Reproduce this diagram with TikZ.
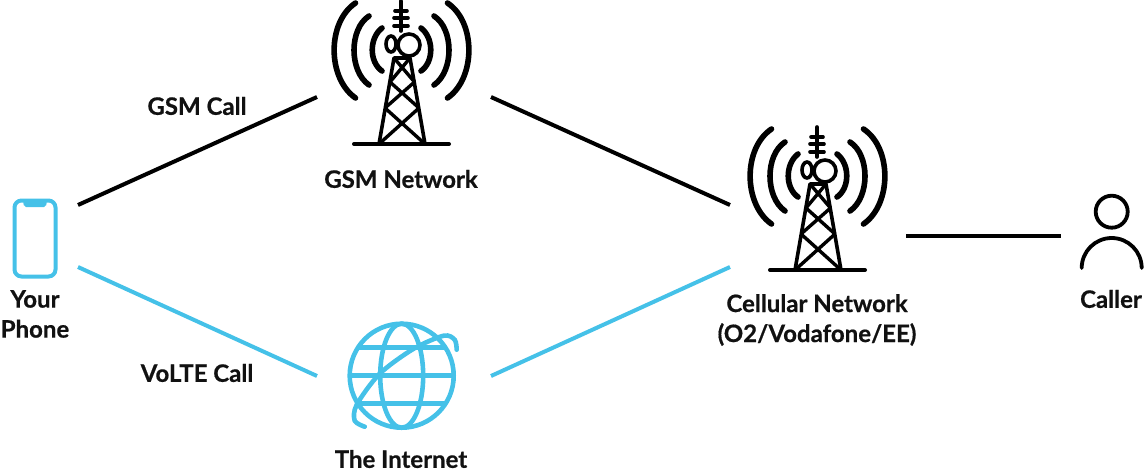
\documentclass[tikz,border=0pt]{standalone}
\usepackage{fontspec}
\setmainfont[BoldFeatures={FakeBold=0.6}]{Lato}
\usetikzlibrary{positioning}

\definecolor{callblue}{HTML}{45C1E8}
\definecolor{labelblack}{HTML}{111111}

\tikzset{
    iconbox/.style={inner sep=0pt, outer sep=0pt},
    labeltext/.style={font=\fontsize{24}{30}\selectfont\bfseries, text=labelblack, align=center, inner sep=0pt},
    gsmline/.style={draw=black, line width=4pt},
    volteline/.style={draw=callblue, line width=4pt},
    tower/.pic={
        % Signal arcs
        \foreach \s in {-1,1} {
            \draw[line width=5.6pt, line cap=round, xshift=.5pt] (\s*19.5,-116) .. controls (\s*32.5,-106) and (\s*32.5,-82) .. (\s*19.5,-73);
            \draw[line width=5.6pt, line cap=round, xshift=.5pt] (\s*32.5,-128) .. controls (\s*52.5,-115) and (\s*52.5,-73) .. (\s*32.5,-59);
            \draw[line width=5.6pt, line cap=round, xshift=.5pt] (\s*46,-141) .. controls (\s*74.5,-122) and (\s*74.5,-66) .. (\s*46,-46);
        }
        % Mast
        \draw[line width=3.6pt, line cap=round] (0,-143) -- (0,-113);
        \draw[line width=3.6pt, line cap=round] (-6,-133) -- (6,-133);
        \draw[line width=3.6pt, line cap=round] (-7,-126) -- (7,-126);
        \draw[line width=3.6pt, line cap=round] (-7,-118) -- (7,-118);
        % Dishes
        \draw[line width=3.6pt] (-10,-100) ellipse (5 and 8);
        \draw[line width=3.6pt, fill=white] (8,-99) circle (11);
        % Lattice
        \draw[line width=3.6pt, line join=round] (-22,0) -- (-7,-86) -- (9,-86) -- (24,0);
        \draw[line width=3.4pt] (-7,-86) -- (13.5,-62) (9,-86) -- (-11,-62);
        \draw[line width=3.4pt] (-11,-62) -- (18,-36) (13.5,-62) -- (-16,-36);
        \draw[line width=3.4pt] (-16,-36) -- (24,0) (18,-36) -- (-22,0);
        \draw[line width=4pt, line cap=round] (-47,0) -- (48,0);
    }
}

\begin{document}
\begin{tikzpicture}[x=1pt, y=-1pt]
    \useasboundingbox (0,0) rectangle (1148,472);

    % Invisible boxes that the lines run between
    \node[iconbox, minimum width=86pt, minimum height=62pt] (phone) at (35,236) {};
    \node[iconbox, minimum width=174pt, minimum height=97pt] (gsm) at (404,48.5) {};
    \node[iconbox, minimum width=174pt, minimum height=96pt] (internet) at (404,424) {};
    \node[iconbox, minimum width=176pt, minimum height=62pt] (cellular) at (818,236) {};
    \node[iconbox, minimum width=100pt, minimum height=62pt] (caller) at (1111,236) {};

    % Phone
    \draw[callblue, line width=4pt, rounded corners=7pt] (14.5,200.5) rectangle (55.5,276.5);
    \fill[callblue, rounded corners=2pt] (23,200) -- (47,200) -- (46,207) -- (24,207) -- cycle;

    % Towers
    \pic at (401,144) {tower};
    \pic at (817,270) {tower};

    % Globe
    \begin{scope}[shift={(401.7,375.7)}, draw=callblue, line width=4.6pt]
        \draw (0,0) circle (52);
        \draw (0,0) ellipse (21.5 and 52);
        \draw (-52,0) -- (52,0);
        \draw (-44,-28) -- (44,-28);
        \draw (-44,28) -- (44,28);
        \draw[line cap=round] plot[smooth] coordinates {(-37,51) (-47,45) (-45,29) (-22,-2) (12,-27) (42,-40) (53,-36) (55,-26)};
    \end{scope}

    % Caller
    \draw[line width=3.8pt] (1111.7,211.7) circle (16);
    \draw[line width=3.8pt, line cap=round] (1081.7,268) arc[start angle=180, end angle=360, radius=30];

    % Lines
    \draw[gsmline] (phone.north east) -- (gsm.south west);
    \draw[gsmline] (gsm.south east) -- (cellular.north west);
    \draw[gsmline] (cellular.east) -- (caller.west);
    \draw[volteline] (phone.south east) -- (internet.north west);
    \draw[volteline] (internet.north east) -- (cellular.south west);

    % Labels
    \node[labeltext] (gsm_call) at (197,106) {GSM Call};
    \node[labeltext] (volte_call) at (197,373) {VoLTE Call};
    \node[labeltext] (gsm_label) at (401,179) {GSM Network};
    \node[labeltext] (internet_label) at (401,459) {The Internet};
    \node[labeltext] (phone_label) at (35,314) {Your\\Phone};
    \node[labeltext] (cellular_label) at (817,320) {Cellular Network\\(O2/Vodafone/EE)};
    \node[labeltext] (caller_label) at (1111,299) {Caller};
\end{tikzpicture}
\end{document}
